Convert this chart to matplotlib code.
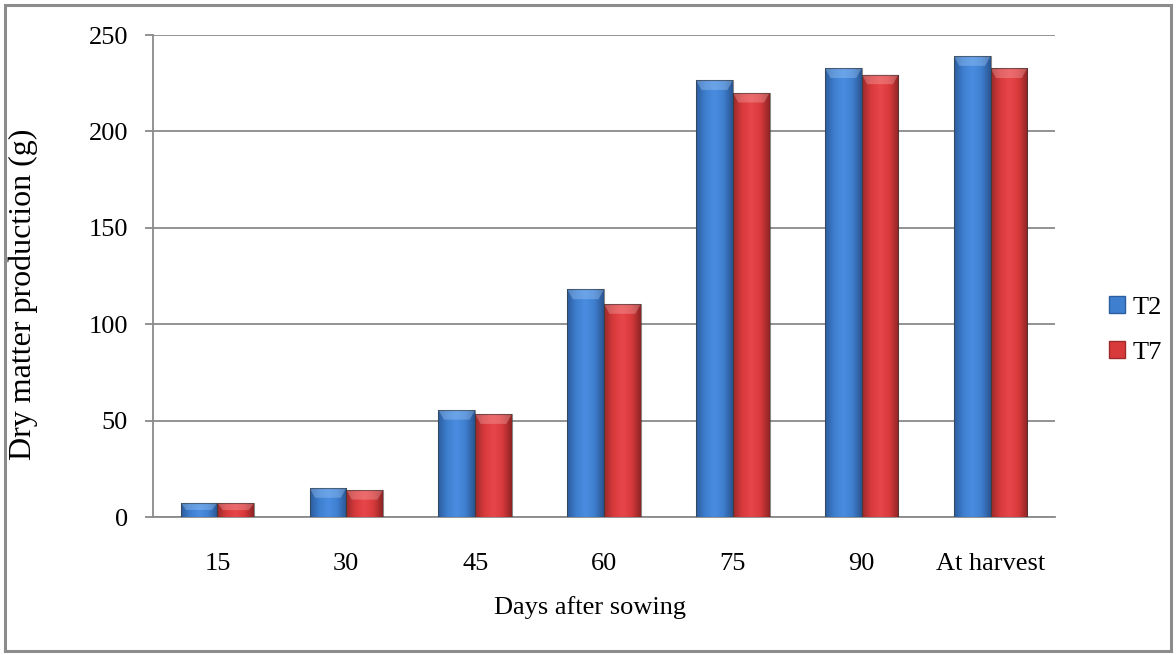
import matplotlib.pyplot as plt
import numpy as np
from matplotlib.colors import LinearSegmentedColormap
from matplotlib.patches import Rectangle, Polygon

plt.rcParams['font.family'] = ['Liberation Serif', 'DejaVu Serif']

days = ['15', '30', '45', '60', '75', '90', 'At harvest']
t2 = [7.3, 15, 55.5, 118, 226.5, 232.7, 239]
t7 = [7.2, 14, 53.3, 110.4, 220, 229.5, 232.7]

blue_cmap = LinearSegmentedColormap.from_list('b', ['#2c5d9e', '#3f7fd0', '#4a8de0', '#3f7fd0', '#2a5590'])
red_cmap = LinearSegmentedColormap.from_list('r', ['#9e2a2a', '#d83a3c', '#e8474a', '#d83a3c', '#8f2424'])


def shade(ax, bars, cmap, top_color):
    grad = np.linspace(0, 1, 64).reshape(1, -1)
    for b in bars:
        x0, y0, w, h = b.get_x(), b.get_y(), b.get_width(), b.get_height()
        im = ax.imshow(grad, cmap=cmap, aspect='auto', extent=(x0, x0 + w, y0, y0 + h),
                       zorder=b.get_zorder() + 0.1, interpolation='bicubic')
        im.set_clip_path(b)
        # soft bevel on the top of each bar
        cap = min(h * 0.5, 5)
        top = y0 + h
        ax.add_patch(Polygon([(x0, top), (x0 + w, top), (x0 + w * 0.85, top - cap),
                              (x0 + w * 0.15, top - cap)], closed=True,
                             facecolor=top_color, edgecolor='none', alpha=0.35,
                             zorder=b.get_zorder() + 0.2))
        ax.add_patch(Rectangle((x0, y0), w, h, facecolor='none', edgecolor='#3a3a3a',
                               linewidth=0.8, alpha=0.6, zorder=b.get_zorder() + 0.3))


fig = plt.figure(figsize=(11.76, 6.55), dpi=100)
ax = fig.add_axes([153 / 1176, 1 - 517 / 655, 902 / 1176, 482 / 655])

x = np.arange(len(days))
w = 0.285
b1 = ax.bar(x - w / 2, t2, w, color='#3f7fd0', zorder=3, label='T2')
b2 = ax.bar(x + w / 2, t7, w, color='#d83a3c', zorder=3, label='T7')
shade(ax, b1, blue_cmap, '#a8d0fa')
shade(ax, b2, red_cmap, '#f7b0b0')

ax.set_xlim(-0.5, len(days) - 0.5)
ax.set_ylim(0, 250)
ax.set_yticks(range(0, 251, 50))
ax.set_xticks(x)
ax.set_xticklabels(days)
ax.yaxis.grid(True, color='#8a8a8a', linewidth=1.3, zorder=0)
ax.set_axisbelow(True)
for s in ['top', 'right']:
    ax.spines[s].set_visible(False)
for s in ['left', 'bottom']:
    ax.spines[s].set_color('#8a8a8a')
    ax.spines[s].set_linewidth(1.3)
ax.tick_params(axis='y', length=6, width=1.3, color='#8a8a8a', labelsize=19, pad=12)
ax.tick_params(axis='x', length=0, labelsize=19, pad=26)

ax.set_ylabel('Dry matter production (g)', fontsize=23)
ax.yaxis.set_label_coords(-0.128, (517 - 294) / 482)
ax.set_xlabel('Days after sowing', fontsize=19)
ax.xaxis.set_label_coords((590 - 153) / 902, (517 - 596) / 482)

leg = fig.legend(handles=[b1, b2], labels=['T2', 'T7'], loc='center left',
                 bbox_to_anchor=(1085 / 1176, 1 - 330 / 655), frameon=False,
                 fontsize=19, handlelength=0.6, handleheight=0.6,
                 handletextpad=0.3, labelspacing=0.85)
leg.legend_handles[0].set_edgecolor('#2c5d9e')
leg.legend_handles[1].set_edgecolor('#9e2a2a')

fig.add_artist(Rectangle((5 / 1176, 4 / 655), 1166 / 1176, 646 / 655, transform=fig.transFigure,
                         facecolor='none', edgecolor='#8c8c8c', linewidth=2.2))

fig.savefig('out.png', dpi=100)
